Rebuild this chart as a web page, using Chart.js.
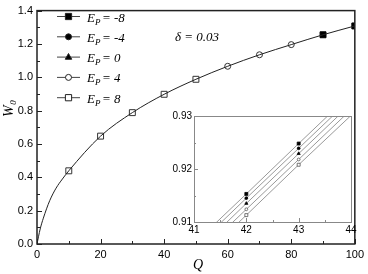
<!DOCTYPE html>
<html>
<head>
<meta charset="utf-8">
<script src="https://cdn.jsdelivr.net/npm/chart.js@4/dist/chart.umd.min.js"></script>
<style>
  html, body { margin: 0; padding: 0; background: #fff; }
  #wrap { position: relative; width: 368px; height: 274px; }
  #main { position: absolute; left: 0; top: 0; }
  #inset { position: absolute; left: 160px; top: 100px; }
</style>
</head>
<body>
<div id="wrap">
  <canvas id="main" width="368" height="274"></canvas>
  <canvas id="inset" width="208" height="140"></canvas>
</div>
<script>
// main curve, W0 vs Q (the 5 curves overlap at this scale)
var mainQ = [0, 1, 2, 4, 6, 8, 10, 20, 30, 40, 50, 60, 70, 80, 90, 100];
var mainW = [0, 0.09, 0.155, 0.26, 0.335, 0.39, 0.439, 0.647, 0.788, 0.898, 0.988, 1.066, 1.135, 1.196, 1.255, 1.308];

// which marker is seen on top at each Q
var openSquareQ = [10, 20, 30, 40, 50];
var openCircleQ = [60, 70, 80];
var blackSquareQ = [90, 100];

var xTicks = [0, 20, 40, 60, 80, 100];
var yTicks = [0, 0.2, 0.4, 0.6, 0.8, 1.0, 1.2, 1.4];

// inset: zoom around Q = 42..43
var insetQ = [41, 42, 43, 44];
var insetMarkQ = [42, 43];
var wEm8 = [0.9059, 0.9153, 0.9248, 0.9342];
var wEm4 = [0.9050, 0.9145, 0.9239, 0.9333];
var wE0  = [0.9040, 0.9135, 0.9229, 0.9323];
var wE4  = [0.9030, 0.9124, 0.9218, 0.9312];
var wE8  = [0.9019, 0.9113, 0.9208, 0.9301];

var legendLabels = ['-8', '-4', '0', '4', '8'];

function pts(qs, ws) {
    return qs.map(function (q, i) { return {x: q, y: ws[i]}; });
}
function ptsAt(qs) {
    return qs.map(function (q) { return {x: q, y: mainW[mainQ.indexOf(q)]}; });
}

var tickFont = {family: 'Liberation Sans, Arial', size: 11};
var serif = 'Liberation Serif, Times New Roman, serif';

function marker(ctx, type, x, y, r) {
    ctx.save();
    ctx.lineWidth = 1;
    ctx.strokeStyle = '#222';
    ctx.fillStyle = type.fill ? '#000' : '#fff';
    ctx.beginPath();
    if (type.shape == 'rect') {
        var s = r * Math.SQRT1_2;
        ctx.rect(x - s, y - s, 2 * s, 2 * s);
    } else if (type.shape == 'circle') {
        ctx.arc(x, y, r, 0, Math.PI * 2);
    } else {
        ctx.moveTo(x, y - r);
        ctx.lineTo(x + r * 0.9, y + r * 0.6);
        ctx.lineTo(x - r * 0.9, y + r * 0.6);
        ctx.closePath();
    }
    ctx.fill();
    ctx.stroke();
    ctx.restore();
}

var legendMarks = [
    {shape: 'rect', fill: true, r: 4.4},
    {shape: 'circle', fill: true, r: 3},
    {shape: 'tri', fill: true, r: 3.6},
    {shape: 'circle', fill: false, r: 3},
    {shape: 'rect', fill: false, r: 4.4}
];

var mainDecor = {
    id: 'mainDecor',
    afterDraw: function (chart) {
        var ctx = chart.ctx, a = chart.chartArea;
        var sx = chart.scales.x, sy = chart.scales.y;
        ctx.save();
        // frame
        ctx.strokeStyle = '#222';
        ctx.lineWidth = 1.5;
        ctx.strokeRect(a.left, a.top, a.right - a.left, a.bottom - a.top);
        // inward ticks
        ctx.lineWidth = 1;
        ctx.beginPath();
        for (var i = 0; i <= 10; i++) {
            var px = Math.round(sx.getPixelForValue(i * 10)) + 0.5;
            var len = (i % 2 == 0) ? 5 : 3;
            ctx.moveTo(px, a.bottom);
            ctx.lineTo(px, a.bottom - len);
        }
        for (var j = 0; j <= 14; j++) {
            var py = Math.round(sy.getPixelForValue(j * 0.1)) + 0.5;
            var l2 = (j % 2 == 0) ? 5 : 3;
            ctx.moveTo(a.left, py);
            ctx.lineTo(a.left + l2, py);
        }
        ctx.stroke();

        // axis titles
        ctx.fillStyle = '#000';
        ctx.font = 'italic 14px ' + serif;
        ctx.textAlign = 'center';
        ctx.textBaseline = 'alphabetic';
        ctx.fillText('Q', 198, 269);

        ctx.save();
        ctx.translate(13, 117);
        ctx.rotate(-Math.PI / 2);
        ctx.textAlign = 'left';
        ctx.font = 'italic 14px ' + serif;
        ctx.fillText('W', 0, 0);
        var ww = ctx.measureText('W').width;
        ctx.font = 'italic 9px ' + serif;
        ctx.fillText('0', ww + 0.5, 3);
        ctx.restore();

        // delta note
        ctx.textAlign = 'left';
        ctx.font = 'italic 13px ' + serif;
        ctx.fillText('\u03b4 = 0.03', 175, 41);

        // legend
        for (var k = 0; k < legendLabels.length; k++) {
            var ly = 16.5 + k * 20.3;
            ctx.strokeStyle = '#444';
            ctx.lineWidth = 1;
            ctx.beginPath();
            ctx.moveTo(57, ly);
            ctx.lineTo(80, ly);
            ctx.stroke();
            var m = legendMarks[k];
            marker(ctx, m, 68.5, ly, m.r);
            ctx.fillStyle = '#000';
            ctx.font = 'italic 13px ' + serif;
            ctx.fillText('E', 87, ly + 5);
            var ew = ctx.measureText('E').width;
            ctx.font = 'italic 9px ' + serif;
            ctx.fillText('P', 87 + ew, ly + 8);
            var pw = ctx.measureText('P').width;
            ctx.font = 'italic 13px ' + serif;
            ctx.fillText('= ' + legendLabels[k], 87 + ew + pw + 1.5, ly + 5);
        }
        ctx.restore();
    }
};

new Chart(document.getElementById('main'), {
    type: 'scatter',
    data: {
        datasets: [
            {data: pts(mainQ, mainW), showLine: true, pointRadius: 0, borderColor: '#222', borderWidth: 1, cubicInterpolationMode: 'monotone'},
            {data: ptsAt(openSquareQ), pointStyle: 'rect', pointRadius: 4.2, backgroundColor: '#fff', borderColor: '#333', borderWidth: 1},
            {data: ptsAt(openCircleQ), pointStyle: 'circle', pointRadius: 3, backgroundColor: '#fff', borderColor: '#333', borderWidth: 1},
            {data: ptsAt(blackSquareQ), pointStyle: 'rect', pointRadius: 4.2, backgroundColor: '#000', borderColor: '#000', borderWidth: 1}
        ]
    },
    options: {
        responsive: false,
        animation: false,
        events: [],
        layout: {padding: {top: 6, right: 8, left: 0, bottom: 0}},
        plugins: {legend: {display: false}, tooltip: {enabled: false}},
        scales: {
            x: {
                type: 'linear', min: 0, max: 100,
                afterFit: function (s) { s.height = 30; },
                afterBuildTicks: function (s) { s.ticks = xTicks.map(function (v) { return {value: v}; }); },
                grid: {display: false, drawTicks: false},
                border: {display: false},
                ticks: {font: tickFont, color: '#000', padding: 4, maxRotation: 0}
            },
            y: {
                type: 'linear', min: 0, max: 1.4,
                afterFit: function (s) { s.width = 37; },
                afterBuildTicks: function (s) { s.ticks = yTicks.map(function (v) { return {value: v}; }); },
                grid: {display: false, drawTicks: false},
                border: {display: false},
                ticks: {font: tickFont, color: '#000', padding: 4, callback: function (v) { return v.toFixed(1); }}
            }
        }
    },
    plugins: [mainDecor]
});

// ---- inset ----
var insetDecor = {
    id: 'insetDecor',
    afterDraw: function (chart) {
        var ctx = chart.ctx, a = chart.chartArea;
        var sx = chart.scales.x, sy = chart.scales.y;
        ctx.save();
        ctx.strokeStyle = '#888';
        ctx.lineWidth = 1;
        ctx.strokeRect(a.left + 0.5, a.top + 0.5, a.right - a.left, a.bottom - a.top);
        ctx.beginPath();
        for (var i = 0; i <= 6; i++) {
            var px = Math.round(sx.getPixelForValue(41 + i * 0.5)) + 0.5;
            var len = (i % 2 == 0) ? 4 : 2;
            ctx.moveTo(px, a.bottom);
            ctx.lineTo(px, a.bottom - len);
        }
        for (var j = 0; j <= 4; j++) {
            var py = Math.round(sy.getPixelForValue(0.91 + j * 0.005)) + 0.5;
            var l2 = (j % 2 == 0) ? 4 : 2;
            ctx.moveTo(a.left, py);
            ctx.lineTo(a.left + l2, py);
        }
        ctx.stroke();
        ctx.restore();
    }
};

function insetSet(ws, style, fill, r) {
    return {
        data: pts(insetQ, ws),
        showLine: true,
        borderColor: '#999',
        borderWidth: 1,
        pointStyle: style,
        pointRadius: function (c) { return insetMarkQ.indexOf(insetQ[c.dataIndex]) >= 0 ? r : 0; },
        pointBackgroundColor: fill ? '#000' : '#fff',
        pointBorderColor: fill ? '#000' : '#555',
        pointBorderWidth: 0.8
    };
}

new Chart(document.getElementById('inset'), {
    type: 'scatter',
    data: {
        datasets: [
            insetSet(wEm8, 'rect', true, 2.1),
            insetSet(wEm4, 'circle', true, 1.4),
            insetSet(wE0, 'triangle', true, 1.8),
            insetSet(wE4, 'circle', false, 1.4),
            insetSet(wE8, 'rect', false, 2.1)
        ]
    },
    options: {
        responsive: false,
        animation: false,
        events: [],
        layout: {padding: {top: 16, right: 17, left: 0, bottom: 0}},
        plugins: {legend: {display: false}, tooltip: {enabled: false}},
        scales: {
            x: {
                type: 'linear', min: 41, max: 44,
                afterFit: function (s) { s.height = 18; },
                afterBuildTicks: function (s) { s.ticks = [41, 42, 43, 44].map(function (v) { return {value: v}; }); },
                grid: {display: false, drawTicks: false},
                border: {display: false},
                ticks: {font: {family: 'Liberation Sans, Arial', size: 10}, color: '#000', padding: 2, maxRotation: 0}
            },
            y: {
                type: 'linear', min: 0.91, max: 0.93,
                afterFit: function (s) { s.width = 34; },
                afterBuildTicks: function (s) { s.ticks = [0.91, 0.92, 0.93].map(function (v) { return {value: v}; }); },
                grid: {display: false, drawTicks: false},
                border: {display: false},
                ticks: {font: {family: 'Liberation Sans, Arial', size: 10}, color: '#000', padding: 2, callback: function (v) { return v.toFixed(2); }}
            }
        }
    },
    plugins: [insetDecor]
});
</script>
</body>
</html>
